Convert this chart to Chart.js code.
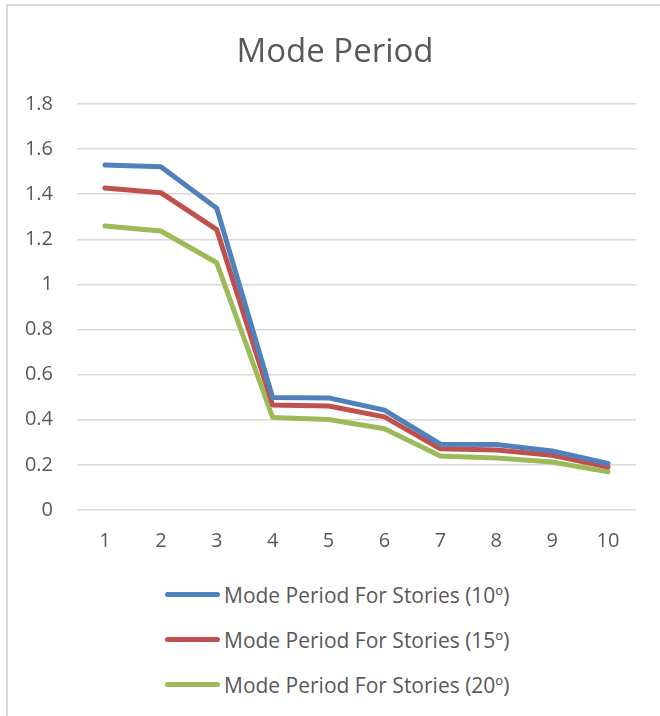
<!DOCTYPE html>
<html>
<head>
<meta charset="utf-8">
<script src="https://cdn.jsdelivr.net/npm/chart.js@4"></script>
<style>
    body { margin: 0; background: #fff; }
    #frame {
        position: absolute; left: 6px; top: 4px; width: 700px; height: 760px;
        border: 2px solid #d9d9d9; box-sizing: border-box;
    }
    #title {
        position: absolute; left: 10px; top: 30px; width: 650px; text-align: center;
        font-family: "Open Sans", sans-serif; font-size: 33px; line-height: 40px; color: #595959;
    }
    #wrap { position: absolute; left: 0; top: 0; width: 660px; height: 560px; }
    #legend {
        position: absolute; left: 165px; top: 572px;
        font-family: "Open Sans", sans-serif; font-size: 21px; color: #595959;
    }
    .item { display: flex; align-items: center; height: 45px; }
    .swatch { width: 55px; height: 5px; border-radius: 3px; margin-right: 4px; }
</style>
</head>
<body>
<div id="frame"></div>
<div id="wrap"><canvas id="chart"></canvas></div>
<div id="title">Mode Period</div>
<div id="legend"></div>
<script>
const categories = ["1", "2", "3", "4", "5", "6", "7", "8", "9", "10"];
const stories10 = [1.53, 1.522, 1.338, 0.499, 0.497, 0.443, 0.292, 0.290, 0.262, 0.206];
const stories15 = [1.428, 1.407, 1.243, 0.466, 0.461, 0.413, 0.271, 0.266, 0.243, 0.190];
const stories20 = [1.259, 1.237, 1.096, 0.410, 0.401, 0.360, 0.239, 0.231, 0.213, 0.169];
const seriesNames = [
    "Mode Period For Stories (10º)",
    "Mode Period For Stories (15º)",
    "Mode Period For Stories (20º)"
];
const colors = ["#4f81bd", "#c0504d", "#9bbb59"];

const font = "'Open Sans', sans-serif";
const gray = "#595959";

const ctx = document.getElementById('chart').getContext('2d');
const chart = new Chart(ctx, {
    type: 'line',
    data: {
        labels: categories,
        datasets: [stories10, stories15, stories20].map((d, i) => ({
            label: seriesNames[i],
            data: d,
            borderColor: colors[i],
            backgroundColor: colors[i],
            borderWidth: 5,
            pointRadius: 0,
            tension: 0,
            borderCapStyle: 'round',
            borderJoinStyle: 'round'
        }))
    },
    options: {
        responsive: true,
        maintainAspectRatio: false,
        animation: false,
        layout: { padding: { left: 0, right: 24, top: 104, bottom: 0 } },
        plugins: {
            legend: { display: false },
            tooltip: { enabled: false },
            title: { display: false }
        },
        scales: {
            x: {
                offset: true,
                grid: { display: false, drawTicks: false },
                border: { display: false },
                ticks: { color: gray, font: { family: font, size: 20 }, padding: 19, maxRotation: 0 },
                afterFit: s => { s.height = 50; }
            },
            y: {
                min: 0,
                max: 1.8,
                ticks: {
                    stepSize: 0.2, color: gray, font: { family: font, size: 20 }, padding: 24,
                    callback: v => String(Math.round(v * 10) / 10)
                },
                grid: { color: '#d9d9d9', lineWidth: 1.5, drawTicks: false },
                border: { display: false },
                afterFit: s => { s.width = 77; }
            }
        }
    }
});

const legend = document.getElementById('legend');
chart.data.datasets.forEach(ds => {
    const row = document.createElement('div');
    row.className = 'item';
    const sw = document.createElement('span');
    sw.className = 'swatch';
    sw.style.background = ds.borderColor;
    const txt = document.createElement('span');
    txt.textContent = ds.label;
    row.appendChild(sw);
    row.appendChild(txt);
    legend.appendChild(row);
});
</script>
</body>
</html>
